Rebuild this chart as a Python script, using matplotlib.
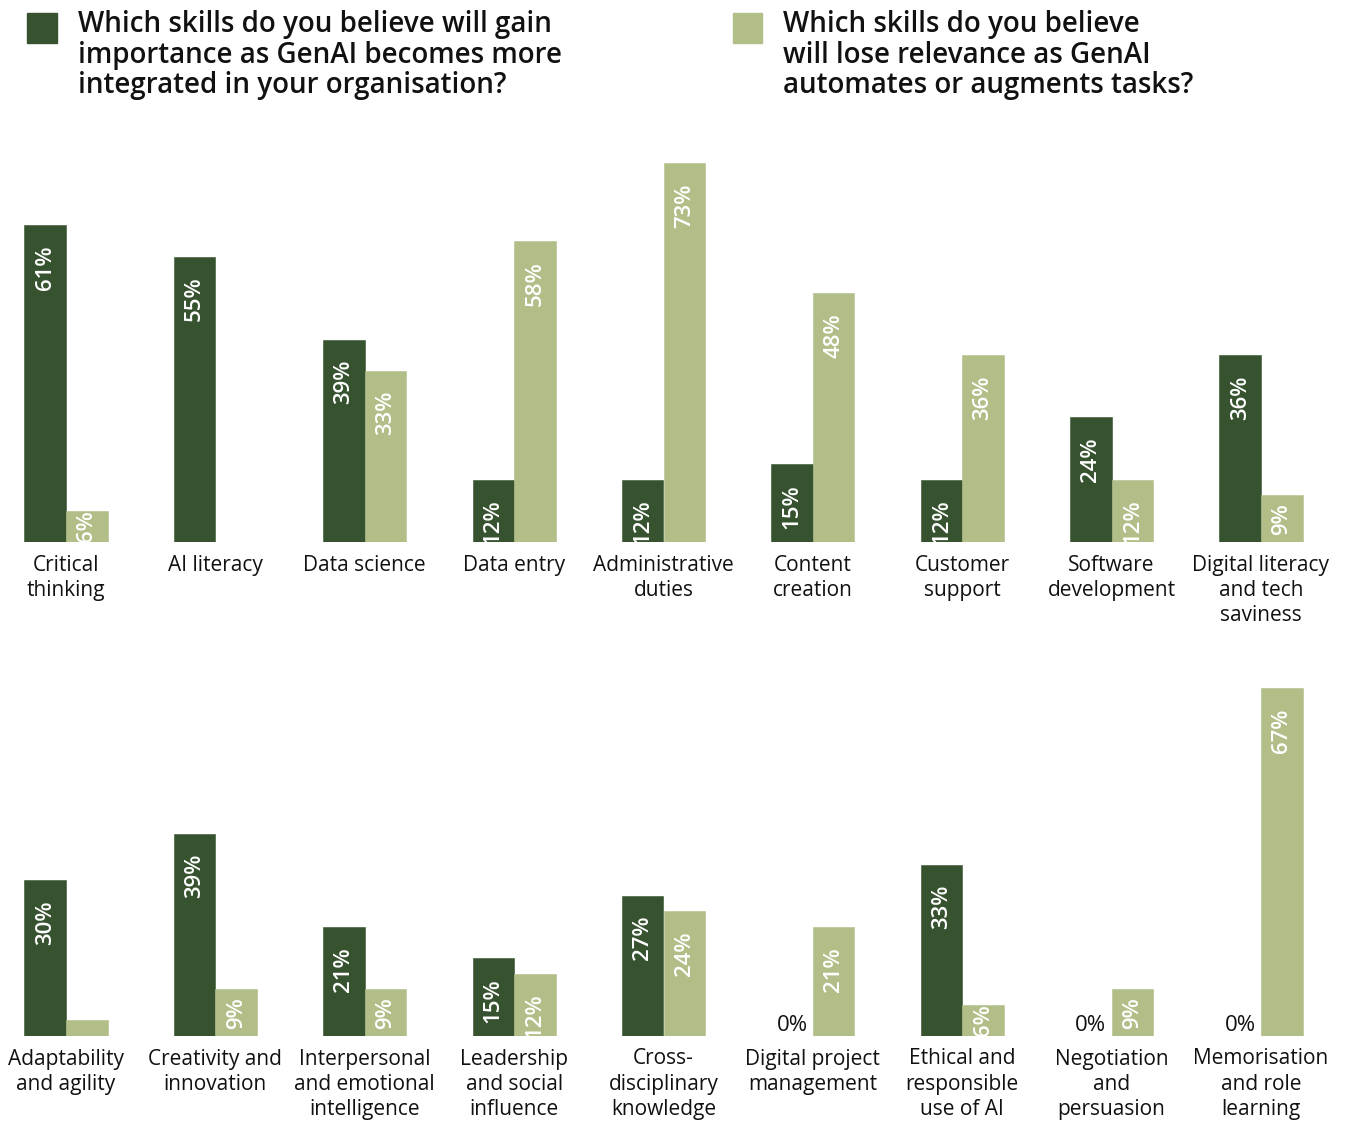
import numpy as np
import matplotlib.pyplot as plt
from matplotlib.patches import Rectangle
from matplotlib.transforms import offset_copy

plt.rcParams['font.family'] = ['Open Sans', 'DejaVu Sans']

DARK = "#36522f"
LIGHT = "#b1be88"
INK = "#111111"

# top row
skills_top = ["Critical\nthinking", "AI literacy", "Data science", "Data entry",
              "Administrative\nduties", "Content\ncreation", "Customer\nsupport",
              "Software\ndevelopment", "Digital literacy\nand tech\nsaviness"]
gain_top = [61, 55, 39, 12, 12, 15, 12, 24, 36]
lose_top = [6, np.nan, 33, 58, 73, 48, 36, 12, 9]

# bottom row
skills_bottom = ["Adaptability\nand agility", "Creativity and\ninnovation",
                 "Interpersonal\nand emotional\nintelligence", "Leadership\nand social\ninfluence",
                 "Cross-\ndisciplinary\nknowledge", "Digital project\nmanagement",
                 "Ethical and\nresponsible\nuse of AI", "Negotiation\nand\npersuasion",
                 "Memorisation\nand role\nlearning"]
gain_bottom = [30, 39, 21, 15, 27, 0, 33, 0, 0]
lose_bottom = [3, 9, 9, 12, 24, 21, 6, 9, 67]

title_gain = "Which skills do you believe will gain\nimportance as GenAI becomes more\nintegrated in your organisation?"
title_lose = "Which skills do you believe\nwill lose relevance as GenAI\nautomates or augments tasks?"

W, H = 1347, 1122
fig = plt.figure(figsize=(W / 100, H / 100), dpi=100)

BW = 0.278


def label_bars(ax, xs, vals):
    for x, v in zip(xs, vals):
        if np.isnan(v):
            continue
        if v == 0:
            ax.text(x, 0, "0%", ha="center", va="bottom", fontsize=16, color=INK)
        elif v < 5:
            continue
        elif v < 10:
            ax.text(x, v / 2, f"{v:.0f}%", rotation=90, ha="center", va="center",
                    fontsize=16, fontweight="semibold", color="white", clip_on=True)
        else:
            tr = offset_copy(ax.transData, fig=fig, x=0, y=-20, units="dots")
            ax.text(x, v, f"{v:.0f}%", rotation=90, ha="center", va="top",
                    fontsize=16, fontweight="semibold", color="white", clip_on=True,
                    transform=tr)


def draw_row(bottom_px, names, gain, lose):
    ymax = 75
    h = ymax * 5.19 / H
    ax = fig.add_axes([0, 1 - bottom_px / H, 1, h])
    x = np.arange(len(names))
    gain = np.array(gain, dtype=float)
    lose = np.array(lose, dtype=float)
    g = np.nan_to_num(gain)
    l = np.nan_to_num(lose)
    ax.bar(x - BW / 2, g, BW, color=DARK, edgecolor=DARK, linewidth=0.4)
    ax.bar(x + BW / 2, l, BW, color=LIGHT, edgecolor=LIGHT, linewidth=0.4)
    label_bars(ax, x - BW / 2, gain)
    label_bars(ax, x + BW / 2, lose)
    ax.set_xlim(-66 / 149.375, (W - 66) / 149.375)
    ax.set_ylim(0, ymax)
    ax.set_yticks([])
    ax.set_xticks(x)
    ax.set_xticklabels(names, fontsize=15, color=INK, linespacing=1.26)
    ax.tick_params(axis="x", length=0, pad=9)
    for s in ax.spines.values():
        s.set_visible(False)
    ax.patch.set_alpha(0)
    return ax


draw_row(542, skills_top, gain_top, lose_top)
draw_row(1036, skills_bottom, gain_bottom, lose_bottom)

# legend squares and questions
fig.patches.append(Rectangle((27 / W, 1 - 43 / H), 30 / W, 30 / H,
                             transform=fig.transFigure, color=DARK))
fig.patches.append(Rectangle((733 / W, 1 - 43 / H), 29 / W, 30 / H,
                             transform=fig.transFigure, color=LIGHT))
fig.text(78 / W, 1 - 10 / H, title_gain, ha="left", va="top", fontsize=20,
         fontweight="semibold", color=INK, linespacing=1.07)
fig.text(783 / W, 1 - 10 / H, title_lose, ha="left", va="top", fontsize=20,
         fontweight="semibold", color=INK, linespacing=1.07)

fig.savefig("out.png", dpi=100, facecolor="white")
